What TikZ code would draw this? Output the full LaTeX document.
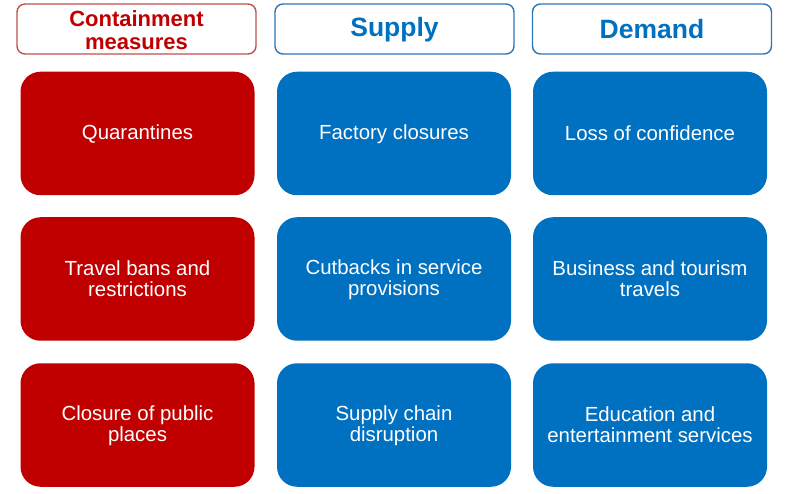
\documentclass[tikz,border=0pt]{standalone}
\usepackage{fontspec}
\setmainfont{Liberation Sans}
\definecolor{cred}{HTML}{C00000}
\definecolor{cblue}{HTML}{0070C0}
\definecolor{credline}{HTML}{C0504D}
\definecolor{cblueline}{HTML}{2E75B6}
\newcommand{\bst}{\rule[-2.5pt]{0pt}{19pt}}
\newcommand{\hst}{\rule[-1.7pt]{0pt}{21.3pt}}
\newcommand{\tst}{\rule[-2pt]{0pt}{23pt}}
\begin{document}
\begin{tikzpicture}[x=1pt,y=-1pt,
  hdr/.style={draw, line width=1.4pt, fill=white, rounded corners=8pt, minimum width=239pt, minimum height=50pt, inner sep=0pt, align=center, font=\bfseries},
  body/.style={rounded corners=20pt, minimum width=234pt, minimum height=123.5pt, inner sep=0pt, align=center, text=white, font=\fontsize{20.4}{21.5}\selectfont},
  redbox/.style={body, fill=cred},
  bluebox/.style={body, fill=cblue}]
\useasboundingbox (0,0) rectangle (790,494);
% headers
\node[hdr, draw=credline, text=cred, font=\bfseries\fontsize{22}{23}\selectfont] (h1) at (136.5,29) {\hst Containment\\\hst measures};
\node[hdr, draw=cblueline, text=cblue, font=\bfseries\fontsize{26.5}{28}\selectfont] (h2) at (394.5,29) {\tst Supply};
\node[hdr, draw=cblueline, text=cblue, font=\bfseries\fontsize{26.5}{28}\selectfont] (h3) at (652,29) {\tst Demand};
% row 1
\node[redbox] (r1) at (137.5,133.5) {\bst Quarantines};
\node[bluebox] (s1) at (394,133.5) {\bst Factory closures};
\node[bluebox] (d1) at (650,133.5) {\bst Loss of confidence};
% row 2
\node[redbox] (r2) at (137.5,279) {\bst Travel bans and\\\bst restrictions};
\node[bluebox] (s2) at (394,279) {\bst Cutbacks in service\\\bst provisions};
\node[bluebox] (d2) at (650,279) {\bst Business and tourism\\\bst travels};
% row 3
\node[redbox] (r3) at (137.5,425) {\bst Closure of public\\\bst places};
\node[bluebox] (s3) at (394,425) {\bst Supply chain\\\bst disruption};
\node[bluebox] (d3) at (650,425) {\bst Education and\\\bst entertainment services};
\end{tikzpicture}
\end{document}
